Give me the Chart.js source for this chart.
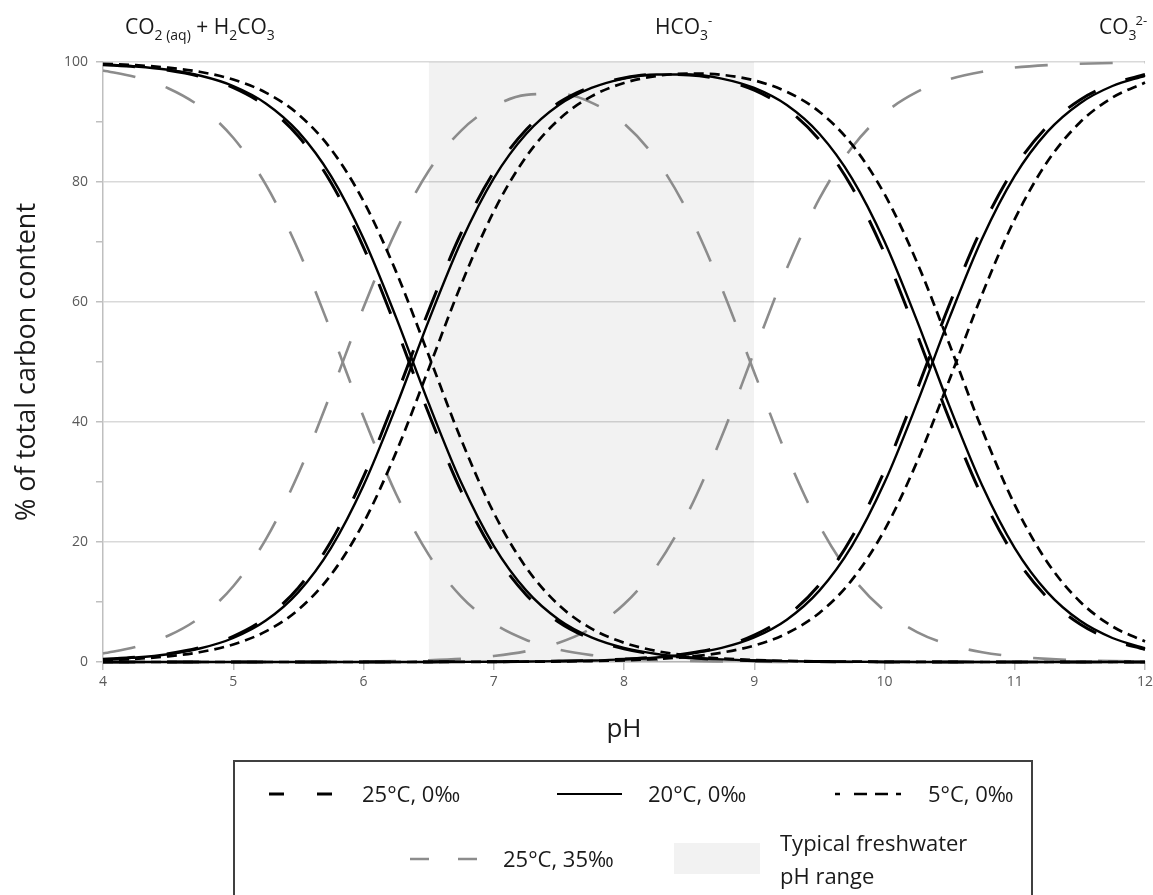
<!DOCTYPE html>
<html><head><meta charset="utf-8">
<script src="https://cdn.jsdelivr.net/npm/chart.js@4.4.1/dist/chart.umd.min.js"></script>
<style>
html,body{margin:0;padding:0;background:#fff}
body{width:1153px;height:895px;overflow:hidden;position:relative;font-family:"Open Sans",sans-serif;color:#1a1a1a}
#c{position:absolute;left:0;top:0}
.lab{position:absolute;font-size:21px;white-space:nowrap;line-height:24px}
.lab .sb{font-size:14px;position:relative;top:6px}
.lab .sp{font-size:13px;position:relative;top:-9px}
#legend{position:absolute;left:233px;top:760px;width:800px;height:150px;border:2px solid #404040;box-sizing:border-box}
.lt{position:absolute;font-size:22px;white-space:nowrap;line-height:28px}
#ov{position:absolute;left:0;top:0}
</style></head>
<body>
<canvas id="c" width="1153" height="760"></canvas>
<div class="lab" style="left:125px;top:14px">CO<span class="sb">2 (aq)</span> + H<span class="sb">2</span>CO<span class="sb">3</span></div>
<div class="lab" style="left:655px;top:14px">HCO<span class="sb">3</span><span class="sp">-</span></div>
<div class="lab" style="left:1099px;top:14px">CO<span class="sb">3</span><span class="sp" style="margin-left:-1px">2-</span></div>
<div id="legend"></div>
<svg id="ov" width="1153" height="895">
  <line x1="269" y1="794" x2="337" y2="794" stroke="#000" stroke-width="3" stroke-dasharray="15 33"/>
  <line x1="557" y1="794" x2="622" y2="794" stroke="#000" stroke-width="2.2"/>
  <line x1="835" y1="794" x2="905" y2="794" stroke="#000" stroke-width="2.6" stroke-dasharray="5 14 13 8 13 8 5"/>
  <line x1="410" y1="859" x2="477" y2="859" stroke="#8c8c8c" stroke-width="2.6" stroke-dasharray="19 29"/>
  <rect x="674" y="843" width="86" height="31" fill="#f2f2f2"/>
</svg>
<div class="lt" style="left:362px;top:779px">25°C, 0‰</div>
<div class="lt" style="left:648px;top:779px">20°C, 0‰</div>
<div class="lt" style="left:928px;top:779px">5°C, 0‰</div>
<div class="lt" style="left:503px;top:844px">25°C, 35‰</div>
<div class="lt" style="left:780px;top:828px">Typical freshwater</div>
<div class="lt" style="left:780px;top:861px">pH range</div>
<script>
// ---- data ----
const pH = [4,4.25,4.5,4.75,5,5.25,5.5,5.75,6,6.25,6.5,6.75,7,7.25,7.5,7.75,8,8.25,8.5,8.75,9,9.25,9.5,9.75,10,10.25,10.5,10.75,11,11.25,11.5,11.75,12];
const xTicks = [4,5,6,7,8,9,10,11,12];
const freshwaterRange = [6.5, 9];
const freshwaterTop = 100;

// 25°C, 0‰
const co2_25_0  = [99.56,99.21,98.61,97.55,95.72,92.64,87.62,79.92,69.12,55.73,41.45,28.47,18.29,11.18,6.61,3.83,2.19,1.24,0.70,0.40,0.22,0.13,0.07,0.04,0.02,0.01,0,0,0,0,0,0,0];
const hco3_25_0 = [0.44,0.79,1.39,2.45,4.28,7.36,12.38,20.08,30.88,44.26,58.54,71.50,81.66,88.74,93.24,95.91,97.34,97.94,97.84,97.04,95.31,92.19,87.04,79.13,68.11,54.58,40.34,27.55,17.61,10.73,6.33,3.66,2.09];
const co3_25_0  = [0,0,0,0,0,0,0,0,0,0.01,0.02,0.03,0.05,0.08,0.15,0.26,0.47,0.83,1.46,2.56,4.47,7.68,12.89,20.83,31.87,45.41,59.66,72.45,82.39,89.27,93.67,96.34,97.91];
// 20°C, 0‰
const co2_20_0  = [99.58,99.26,98.70,97.71,96.00,93.10,88.35,81.01,70.58,57.43,43.14,29.90,19.35,11.89,7.05,4.09,2.34,1.33,0.75,0.43,0.24,0.14,0.08,0.04,0.02,0.01,0,0,0,0,0,0,0];
const hco3_20_0 = [0.42,0.74,1.30,2.29,4.00,6.90,11.65,18.99,29.42,42.56,56.85,70.08,80.61,88.03,92.82,95.67,97.24,97.92,97.92,97.24,95.67,92.82,88.03,80.61,70.08,56.85,42.56,29.42,18.99,11.65,6.90,4.00,2.29];
const co3_20_0  = [0,0,0,0,0,0,0,0,0,0.01,0.01,0.02,0.04,0.08,0.14,0.24,0.43,0.75,1.33,2.34,4.09,7.05,11.89,19.35,29.90,43.14,57.43,70.58,81.01,88.35,93.10,96.00,97.71];
// 5°C, 0‰
const co2_5_0   = [99.70,99.47,99.05,98.33,97.07,94.90,91.28,85.48,76.81,65.06,51.15,37.06,24.88,15.70,9.48,5.56,3.21,1.83,1.04,0.59,0.33,0.19,0.11,0.06,0.03,0.02,0.01,0,0,0,0,0,0];
const hco3_5_0  = [0.30,0.53,0.95,1.67,2.93,5.10,8.72,14.52,23.19,34.94,48.84,62.92,75.09,84.25,90.43,94.28,96.51,97.67,98.08,97.86,96.93,95.04,91.72,86.26,77.98,66.59,52.86,38.69,26.19,16.63,10.09,5.93,3.43];
const co3_5_0   = [0,0,0,0,0,0,0,0,0,0,0.01,0.02,0.03,0.05,0.09,0.16,0.28,0.50,0.88,1.56,2.74,4.77,8.18,13.68,21.99,33.39,47.13,61.31,73.81,83.37,89.91,94.07,96.57];
// 25°C, 35‰
const co2_25_35  = [98.58,97.49,95.63,92.48,87.37,79.55,68.63,55.16,40.87,28.01,17.90,10.90,6.41,3.68,2.07,1.15,0.62,0.33,0.16,0.08,0.03,0.01,0,0,0,0,0,0,0,0,0,0,0];
const hco3_25_35 = [1.42,2.51,4.37,7.52,12.63,20.45,31.37,44.82,59.07,71.85,81.82,88.57,92.60,94.52,94.72,93.23,89.76,83.72,74.57,62.35,48.26,34.41,22.79,14.23,8.54,4.99,2.87,1.63,0.93,0.52,0.30,0.17,0.09];
const co3_25_35  = [0,0,0,0,0,0,0,0.02,0.06,0.14,0.28,0.53,0.99,1.80,3.21,5.62,9.62,15.95,25.27,37.57,51.71,65.57,77.21,85.76,91.46,95.01,97.13,98.37,99.07,99.48,99.70,99.83,99.91];

// ---- styles ----
const st25 = {borderColor:'#000', borderWidth:3.0, borderDash:[32,32]};
const st20 = {borderColor:'#000', borderWidth:2.4, borderDash:[]};
const st5  = {borderColor:'#000', borderWidth:2.7, borderDash:[10,6]};
const st35 = {borderColor:'#8c8c8c', borderWidth:2.6, borderDash:[33,32]};

function pts(ys){ return pH.map((x,i)=>({x:x, y:ys[i]})); }
function ds(label, ys, st, order){
  return Object.assign({label:label, data:pts(ys), pointRadius:0, fill:false,
    cubicInterpolationMode:'monotone', borderCapStyle:'butt', order:order, clip:6}, st);
}
const datasets = [
  {label:'Typical freshwater pH range', data:[{x:freshwaterRange[0],y:freshwaterTop},{x:freshwaterRange[1],y:freshwaterTop}],
   fill:'origin', backgroundColor:'rgba(0,0,0,0.05)', borderWidth:0, pointRadius:0, order:20},
  ds('25°C, 35‰ CO2', co2_25_35, st35, 5), ds('25°C, 35‰ HCO3', hco3_25_35, st35, 5), ds('25°C, 35‰ CO3', co3_25_35, st35, 5),
  ds('5°C, 0‰ CO2', co2_5_0, st5, 4), ds('5°C, 0‰ HCO3', hco3_5_0, st5, 4), ds('5°C, 0‰ CO3', co3_5_0, st5, 4),
  ds('25°C, 0‰ CO2', co2_25_0, st25, 3), ds('25°C, 0‰ HCO3', hco3_25_0, st25, 3), ds('25°C, 0‰ CO3', co3_25_0, st25, 3),
  ds('20°C, 0‰ CO2', co2_20_0, st20, 2), ds('20°C, 0‰ HCO3', hco3_20_0, st20, 2), ds('20°C, 0‰ CO3', co3_20_0, st20, 2)
];

new Chart(document.getElementById('c'), {
  type:'line',
  data:{datasets:datasets},
  options:{
    responsive:false, animation:false, devicePixelRatio:1,
    layout:{padding:{top:62, right:8, left:0, bottom:0}},
    plugins:{legend:{display:false}, tooltip:{enabled:false}},
    scales:{
      x:{type:'linear', min:4, max:12,
        afterBuildTicks:(s)=>{ s.ticks = xTicks.map(v=>({value:v})); },
        afterFit:(s)=>{ s.height = 98; s.paddingRight = 0; s.paddingLeft = 0; },
        ticks:{font:{family:'Open Sans', size:14}, color:'#595959', padding:4, maxRotation:0},
        grid:{drawOnChartArea:false, tickLength:8, tickColor:'#bfbfbf', lineWidth:1.5},
        border:{display:true, color:'#bfbfbf', width:1.5},
        title:{display:true, text:'pH', font:{family:'Open Sans', size:26}, color:'#1a1a1a', padding:{top:0, bottom:15}}
      },
      y:{min:0, max:100,
        afterFit:(s)=>{ s.width = 103; s.paddingTop = 0; s.paddingBottom = 0; },
        ticks:{stepSize:10, font:{family:'Open Sans', size:14}, color:'#595959', padding:8,
          callback:(v)=> (v % 20 === 0 ? v : '')},
        grid:{color:(c)=> (c.tick && c.tick.value % 20 === 0 ? '#d9d9d9' : 'rgba(0,0,0,0)'),
          lineWidth:1.5, tickLength:7, tickColor:'#bfbfbf'},
        border:{display:true, color:'#bfbfbf', width:1.5},
        title:{display:true, text:'% of total carbon content', font:{family:'Open Sans', size:27}, color:'#1a1a1a', padding:{top:11, bottom:0}}
      }
    }
  }
});
</script>
</body></html>
